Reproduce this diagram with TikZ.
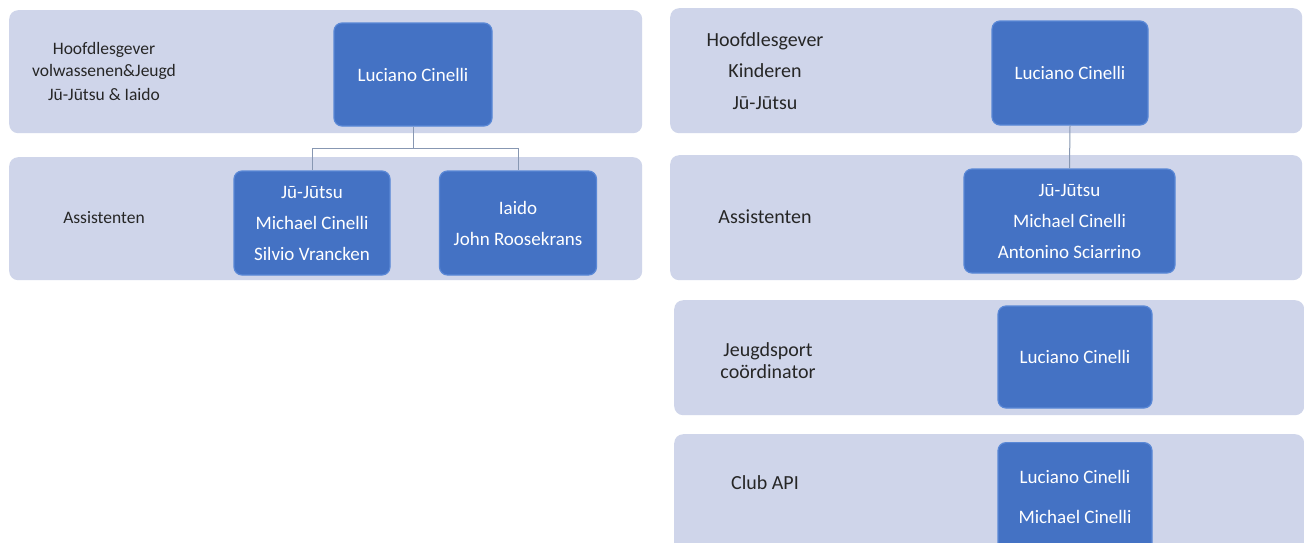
\documentclass[tikz,border=0pt]{standalone}
\usepackage{fontspec}
\setmainfont{Carlito}
\definecolor{bandc}{HTML}{CFD5EA}
\definecolor{boxc}{HTML}{4472C4}
\definecolor{boxedge}{HTML}{5A88D6}
\definecolor{linec}{HTML}{8797B2}
\definecolor{labc}{HTML}{262626}
\tikzset{
  band/.style={fill=bandc, draw=none, rounded corners=9pt},
  pbox/.style={fill=boxc, draw=boxedge, line width=1.2pt, rounded corners=8pt, text=white, align=center, inner sep=0pt, font=\fontsize{19}{31}\selectfont},
  slab/.style={text=labc, align=center, inner sep=0pt, font=\fontsize{17.5}{22}\selectfont},
  blab/.style={text=labc, align=center, inner sep=0pt, font=\fontsize{20}{31.5}\selectfont},
  conn/.style={draw=linec, line width=1pt}
}
\begin{document}
\begin{tikzpicture}[x=1pt,y=-1pt]
\useasboundingbox (0,0) rectangle (1304,542);
\fill[white] (0,0) rectangle (1304,542);
% left bands
\node[band, minimum width=633, minimum height=123, anchor=north west] (LB1) at (9,10) {};
\node[band, minimum width=633, minimum height=123, anchor=north west] (LB2) at (9,157) {};
% right bands
\node[band, minimum width=632, minimum height=125, anchor=north west] (RB1) at (670,8) {};
\node[band, minimum width=632, minimum height=125, anchor=north west] (RB2) at (670,155) {};
\node[band, minimum width=630, minimum height=115, anchor=north west] (RB3) at (674,300) {};
\node[band, minimum width=630, minimum height=130, anchor=north west] (RB4) at (674,434) {};
% left boxes
\node[pbox, minimum width=158, minimum height=103] (LT) at (413,74.5) {Luciano Cinelli};
\node[pbox, minimum width=156, minimum height=104] (LA) at (312,223) {Jū-Jūtsu\\Michael Cinelli\\Silvio Vrancken};
\node[pbox, minimum width=157, minimum height=104] (LI) at (518,223) {Iaido\\John Roosekrans};
% right boxes
\node[pbox, minimum width=156, minimum height=104] (RT) at (1070,73) {Luciano Cinelli};
\node[pbox, minimum width=211, minimum height=104] (RA) at (1069.5,221) {Jū-Jūtsu\\Michael Cinelli\\Antonino Sciarrino};
\node[pbox, minimum width=154, minimum height=102] (RJ) at (1075,357) {Luciano Cinelli};
\node[pbox, minimum width=154, minimum height=112, anchor=north] (RC) at (1075,442) {};
\node[text=white, align=center, inner sep=0pt, font=\fontsize{19}{40}\selectfont] (RCt) at (1075,497) {Luciano Cinelli\\Michael Cinelli};
% connectors
\draw[conn] (LT.south) -- ++(0,22) coordinate (J) -| (LA.north);
\draw[conn] (J) -| (LI.north);
\draw[conn] (RT.south) -- (RA.north);
% labels
\node[slab] (L1) at (104,71) {Hoofdlesgever\\volwassenen\&Jeugd\\[2pt]Jū-Jūtsu \& Iaido};
\node[slab] (L2) at (104,218) {Assistenten};
\node[blab] (R1) at (765,71) {Hoofdlesgever\\Kinderen\\Jū-Jūtsu};
\node[blab] (R2) at (765,217) {Assistenten};
\node[blab, font=\fontsize{20}{22}\selectfont] (R3) at (768,361) {Jeugdsport\\coördinator};
\node[blab] (R4) at (765,483) {Club API};
\end{tikzpicture}
\end{document}
